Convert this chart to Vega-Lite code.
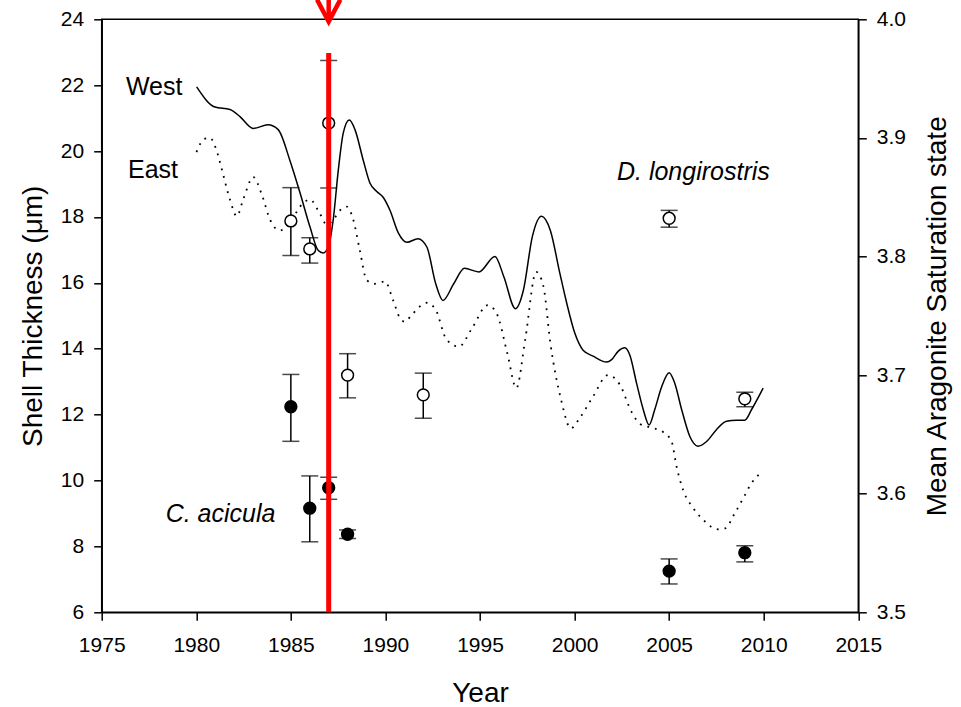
{
  "$schema": "https://vega.github.io/schema/vega-lite/v6.json",
  "width": 756.6,
  "height": 593,
  "autosize": {"type": "none"},
  "padding": {"left": 101.7, "top": 19.3, "right": 102.7, "bottom": 94.7},
  "config": {
    "font": "Liberation Sans",
    "view": {"stroke": "black", "strokeWidth": 1.5},
    "axis": {
      "grid": false,
      "labelFlush": false,
      "domainColor": "black",
      "domainWidth": 1.5,
      "tickColor": "black",
      "tickWidth": 1.5,
      "tickSize": 8,
      "labelFont": "Liberation Sans",
      "labelFontSize": 21,
      "labelColor": "black",
      "titleFont": "Liberation Sans",
      "titleFontSize": 28,
      "titleFontWeight": "normal",
      "titleColor": "black"
    }
  },
  "datasets": {
    "west": [
      {"year": 1980.02, "omega": 3.943}, {"year": 1980.99, "omega": 3.926}, {"year": 1981.78, "omega": 3.924},
      {"year": 1982.31, "omega": 3.918}, {"year": 1983.01, "omega": 3.908}, {"year": 1983.79, "omega": 3.911},
      {"year": 1984.33, "omega": 3.907}, {"year": 1984.95, "omega": 3.881}, {"year": 1985.48, "omega": 3.854},
      {"year": 1986.01, "omega": 3.825}, {"year": 1986.45, "omega": 3.805}, {"year": 1986.71, "omega": 3.803},
      {"year": 1986.98, "omega": 3.808}, {"year": 1987.24, "omega": 3.831}, {"year": 1987.51, "omega": 3.873},
      {"year": 1987.77, "omega": 3.904}, {"year": 1988.09, "omega": 3.915}, {"year": 1988.39, "omega": 3.907},
      {"year": 1988.83, "omega": 3.881}, {"year": 1989.18, "omega": 3.862}, {"year": 1989.53, "omega": 3.855},
      {"year": 1989.88, "omega": 3.850}, {"year": 1990.24, "omega": 3.839}, {"year": 1990.68, "omega": 3.820},
      {"year": 1991.14, "omega": 3.812}, {"year": 1991.72, "omega": 3.815}, {"year": 1992.19, "omega": 3.808},
      {"year": 1992.66, "omega": 3.777}, {"year": 1993.04, "omega": 3.763}, {"year": 1993.61, "omega": 3.777},
      {"year": 1994.18, "omega": 3.790}, {"year": 1994.94, "omega": 3.787}, {"year": 1995.79, "omega": 3.800},
      {"year": 1996.26, "omega": 3.783}, {"year": 1996.87, "omega": 3.756}, {"year": 1997.30, "omega": 3.772},
      {"year": 1997.77, "omega": 3.817}, {"year": 1998.25, "omega": 3.834}, {"year": 1998.72, "omega": 3.822},
      {"year": 1999.22, "omega": 3.786}, {"year": 1999.58, "omega": 3.761}, {"year": 2000.02, "omega": 3.735},
      {"year": 2000.45, "omega": 3.721}, {"year": 2000.98, "omega": 3.716}, {"year": 2001.69, "omega": 3.711},
      {"year": 2001.96, "omega": 3.713}, {"year": 2002.30, "omega": 3.720}, {"year": 2002.66, "omega": 3.723},
      {"year": 2002.92, "omega": 3.717}, {"year": 2003.28, "omega": 3.693}, {"year": 2003.63, "omega": 3.671},
      {"year": 2003.94, "omega": 3.658}, {"year": 2004.24, "omega": 3.671}, {"year": 2004.60, "omega": 3.690},
      {"year": 2005.00, "omega": 3.702}, {"year": 2005.30, "omega": 3.693}, {"year": 2005.66, "omega": 3.671},
      {"year": 2006.10, "omega": 3.648}, {"year": 2006.53, "omega": 3.640}, {"year": 2006.98, "omega": 3.644},
      {"year": 2007.50, "omega": 3.654}, {"year": 2008.03, "omega": 3.661}, {"year": 2008.56, "omega": 3.662},
      {"year": 2009.00, "omega": 3.662}, {"year": 2009.36, "omega": 3.671}, {"year": 2009.97, "omega": 3.689}
    ],
    "east": [
      {"year": 1980.01, "omega": 3.888}, {"year": 1980.41, "omega": 3.899}, {"year": 1980.72, "omega": 3.900},
      {"year": 1981.04, "omega": 3.891}, {"year": 1981.36, "omega": 3.873}, {"year": 1981.78, "omega": 3.848},
      {"year": 1982.14, "omega": 3.834}, {"year": 1982.48, "omega": 3.848}, {"year": 1983.01, "omega": 3.867},
      {"year": 1983.47, "omega": 3.852}, {"year": 1983.90, "omega": 3.831}, {"year": 1984.42, "omega": 3.822},
      {"year": 1984.95, "omega": 3.828}, {"year": 1985.48, "omega": 3.842}, {"year": 1986.01, "omega": 3.848},
      {"year": 1986.54, "omega": 3.836}, {"year": 1986.89, "omega": 3.827}, {"year": 1987.24, "omega": 3.831},
      {"year": 1987.60, "omega": 3.839}, {"year": 1987.95, "omega": 3.842}, {"year": 1988.30, "omega": 3.831},
      {"year": 1988.65, "omega": 3.805}, {"year": 1989.01, "omega": 3.780}, {"year": 1989.45, "omega": 3.777},
      {"year": 1989.97, "omega": 3.779}, {"year": 1990.41, "omega": 3.763}, {"year": 1990.77, "omega": 3.748},
      {"year": 1991.03, "omega": 3.745}, {"year": 1991.40, "omega": 3.751}, {"year": 1992.19, "omega": 3.761},
      {"year": 1992.66, "omega": 3.755}, {"year": 1993.23, "omega": 3.730}, {"year": 1993.89, "omega": 3.724},
      {"year": 1994.56, "omega": 3.739}, {"year": 1995.41, "omega": 3.759}, {"year": 1995.88, "omega": 3.752},
      {"year": 1996.45, "omega": 3.718}, {"year": 1996.92, "omega": 3.689}, {"year": 1997.39, "omega": 3.730},
      {"year": 1997.97, "omega": 3.787}, {"year": 1998.35, "omega": 3.775}, {"year": 1998.72, "omega": 3.727},
      {"year": 1999.29, "omega": 3.679}, {"year": 1999.80, "omega": 3.655}, {"year": 2000.28, "omega": 3.664},
      {"year": 2000.98, "omega": 3.682}, {"year": 2001.76, "omega": 3.700}, {"year": 2002.39, "omega": 3.692},
      {"year": 2003.01, "omega": 3.669}, {"year": 2003.45, "omega": 3.659}, {"year": 2003.98, "omega": 3.656},
      {"year": 2004.68, "omega": 3.652}, {"year": 2005.13, "omega": 3.644}, {"year": 2005.39, "omega": 3.623},
      {"year": 2005.74, "omega": 3.603}, {"year": 2006.27, "omega": 3.588}, {"year": 2006.80, "omega": 3.578},
      {"year": 2007.57, "omega": 3.570}, {"year": 2008.00, "omega": 3.571}, {"year": 2008.38, "omega": 3.581},
      {"year": 2008.91, "omega": 3.596}, {"year": 2009.36, "omega": 3.609}, {"year": 2009.79, "omega": 3.617}
    ],
    "shells": [
      {"species": "D. longirostris", "year": 1985, "mean": 17.88, "lo": 16.83, "hi": 18.89},
      {"species": "D. longirostris", "year": 1986, "mean": 17.03, "lo": 16.60, "hi": 17.37},
      {"species": "D. longirostris", "year": 1987, "mean": 20.85, "lo": 18.88, "hi": 22.75},
      {"species": "D. longirostris", "year": 1988, "mean": 13.20, "lo": 12.51, "hi": 13.85},
      {"species": "D. longirostris", "year": 1992, "mean": 12.60, "lo": 11.89, "hi": 13.26},
      {"species": "D. longirostris", "year": 2005, "mean": 17.96, "lo": 17.69, "hi": 18.20},
      {"species": "D. longirostris", "year": 2009, "mean": 12.48, "lo": 12.24, "hi": 12.68},
      {"species": "C. acicula", "year": 1985, "mean": 12.24, "lo": 11.19, "hi": 13.22},
      {"species": "C. acicula", "year": 1986, "mean": 9.16, "lo": 8.14, "hi": 10.14},
      {"species": "C. acicula", "year": 1987, "mean": 9.78, "lo": 9.43, "hi": 10.10},
      {"species": "C. acicula", "year": 1988, "mean": 8.37, "lo": 8.24, "hi": 8.50},
      {"species": "C. acicula", "year": 2005, "mean": 7.25, "lo": 6.86, "hi": 7.62},
      {"species": "C. acicula", "year": 2009, "mean": 7.81, "lo": 7.53, "hi": 8.02}
    ],
    "marker": [{"year": 1987, "lo": 6, "hi": 22.98, "tip": 23.93, "top": 24.7}],
    "sides": [
      {"label": "West", "year": 1976.28, "val": 21.95},
      {"label": "East", "year": 1976.39, "val": 19.43}
    ],
    "speciesLabels": [
      {"label": "D. longirostris", "year": 2002.24, "val": 19.37},
      {"label": "C. acicula", "year": 1978.38, "val": 8.98}
    ]
  },
  "encoding": {
    "x": {
      "field": "year",
      "type": "quantitative",
      "title": "Year",
      "scale": {"domain": [1975, 2015], "nice": false, "zero": false},
      "axis": {
        "values": [1975, 1980, 1985, 1990, 1995, 2000, 2005, 2010, 2015],
        "format": "d",
        "labelFlush": false,
        "labelPadding": 14,
        "titlePadding": 24
      }
    }
  },
  "layer": [
    {
      "layer": [
        {
          "data": {"name": "east"},
          "mark": {"type": "line", "interpolate": "monotone", "color": "black", "strokeWidth": 1.8, "strokeDash": [1.8, 6]},
          "encoding": {
            "y": {
              "field": "omega",
              "type": "quantitative",
              "title": "Mean Aragonite Saturation state",
              "scale": {"domain": [3.5, 4.0], "nice": false, "zero": false},
              "axis": {
                "orient": "right",
                "values": [3.5, 3.6, 3.7, 3.8, 3.9, 4.0],
                "format": ".1f",
                "labelPadding": 10,
                "titleAngle": -90,
                "titleBaseline": "top",
                "titlePadding": 18
              }
            }
          }
        },
        {
          "data": {"name": "west"},
          "mark": {"type": "line", "interpolate": "monotone", "color": "black", "strokeWidth": 1.5},
          "encoding": {
            "y": {"field": "omega", "type": "quantitative", "title": "Mean Aragonite Saturation state"}
          }
        }
      ]
    },
    {
      "layer": [
        {
          "data": {"name": "shells"},
          "mark": {"type": "rule", "color": "black", "strokeWidth": 1.5},
          "encoding": {
            "y": {
              "field": "lo",
              "type": "quantitative",
              "title": "Shell Thickness (μm)",
              "scale": {"domain": [6, 24], "nice": false, "zero": false},
              "axis": {
                "orient": "left",
                "values": [6, 8, 10, 12, 14, 16, 18, 20, 22, 24],
                "labelPadding": 10,
                "titlePadding": 13
              }
            },
            "y2": {"field": "hi"}
          }
        },
        {
          "data": {"name": "shells"},
          "mark": {"type": "tick", "orient": "horizontal", "color": "black", "size": 17, "thickness": 1.5},
          "encoding": {"y": {"field": "hi", "type": "quantitative", "title": "Shell Thickness (μm)"}}
        },
        {
          "data": {"name": "shells"},
          "mark": {"type": "tick", "orient": "horizontal", "color": "black", "size": 17, "thickness": 1.5},
          "encoding": {"y": {"field": "lo", "type": "quantitative", "title": "Shell Thickness (μm)"}}
        },
        {
          "data": {"name": "shells"},
          "mark": {"type": "point", "shape": "circle", "filled": true, "size": 140, "stroke": "black", "strokeWidth": 1.5, "opacity": 1},
          "encoding": {
            "y": {"field": "mean", "type": "quantitative", "title": "Shell Thickness (μm)"},
            "fill": {
              "field": "species",
              "type": "nominal",
              "scale": {"domain": ["D. longirostris", "C. acicula"], "range": ["white", "black"]},
              "legend": null
            }
          }
        },
        {
          "data": {"name": "marker"},
          "mark": {"type": "rule", "color": "#ff0000", "strokeWidth": 5},
          "encoding": {
            "y": {"field": "lo", "type": "quantitative", "title": "Shell Thickness (μm)"},
            "y2": {"field": "hi"}
          }
        },
        {
          "data": {"name": "marker"},
          "mark": {"type": "rule", "color": "#ff0000", "strokeWidth": 4.5},
          "encoding": {
            "y": {"field": "tip", "type": "quantitative", "title": "Shell Thickness (μm)"},
            "y2": {"field": "top"}
          }
        },
        {
          "data": {"name": "marker"},
          "mark": {
            "type": "point",
            "shape": "M-0.53,-1L0,0L0.53,-1",
            "size": 1936,
            "filled": false,
            "stroke": "#ff0000",
            "strokeWidth": 4.5,
            "strokeJoin": "miter",
            "opacity": 1
          },
          "encoding": {"y": {"field": "tip", "type": "quantitative", "title": "Shell Thickness (μm)"}}
        },
        {
          "data": {"name": "sides"},
          "mark": {"type": "text", "align": "left", "baseline": "middle", "fontSize": 25, "color": "black"},
          "encoding": {
            "y": {"field": "val", "type": "quantitative", "title": "Shell Thickness (μm)"},
            "text": {"field": "label"}
          }
        },
        {
          "data": {"name": "speciesLabels"},
          "mark": {"type": "text", "align": "left", "baseline": "middle", "fontSize": 25, "fontStyle": "italic", "color": "black"},
          "encoding": {
            "y": {"field": "val", "type": "quantitative", "title": "Shell Thickness (μm)"},
            "text": {"field": "label"}
          }
        }
      ]
    }
  ],
  "resolve": {"scale": {"y": "independent"}}
}
